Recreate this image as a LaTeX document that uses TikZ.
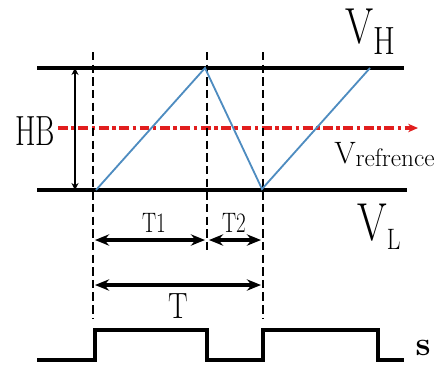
\documentclass[tikz,border=0pt]{standalone}
\usepackage{graphicx}
\usepackage{tikz}
\usetikzlibrary{positioning, arrows.meta}

\definecolor{rampblue}{RGB}{78,140,192}
\definecolor{refred}{RGB}{225,30,30}

% condensed label text
\newcommand{\narrowtxt}[2][0.8]{\scalebox{#1}[1]{#2}}

\begin{document}
\begin{tikzpicture}[
    x=0.025cm, y=-0.025cm,
    level/.style={line width=2.7pt},
    guide/.style={line width=0.9pt, dash pattern=on 6pt off 3pt},
    ramp/.style={rampblue, line width=1.3pt},
    span/.style={{Stealth[length=10pt,width=8pt]}-{Stealth[length=10pt,width=8pt]}, line width=2.4pt},
    band/.style={{Stealth[length=5pt,width=5pt]}-{Stealth[length=5pt,width=5pt]}, line width=0.9pt},
    reference/.style={refred, line width=2.3pt, dash pattern=on 7pt off 2.5pt on 2.5pt off 2.5pt, -{Stealth[length=7pt,width=6pt]}},
    pulse/.style={line width=2.7pt},
    lbl/.style={inner sep=0pt, anchor=base}
]
\useasboundingbox (0,0) rectangle (444,364);

% hysteresis band limits
\coordinate (hiL) at (37,68);   \coordinate (hiR) at (404,68);
\coordinate (loL) at (37,190);  \coordinate (loR) at (407,190);
\draw[level] (hiL) -- (hiR);
\draw[level] (loL) -- (loR);

% reference level
\coordinate (refL) at (58,128); \coordinate (refR) at (418,128);
\draw[reference] (refL) -- (refR);

% switching instants
\coordinate (d1t) at (93,52);  \coordinate (d1b) at (93,318);
\coordinate (d2t) at (207,52); \coordinate (d2b) at (207,253);
\coordinate (d3t) at (263,52); \coordinate (d3b) at (263,318);
\draw[guide] (d1t) -- (d1b);
\draw[guide] (d2t) -- (d2b);
\draw[guide] (d3t) -- (d3b);

% carrier
\coordinate (c0) at (96,190);
\coordinate (c1) at (205,68);
\coordinate (c2) at (262,189);
\coordinate (c3) at (370,68);
\draw[ramp] (c0) -- (c1) -- (c2) -- (c3);

% band width
\coordinate (hbT) at (75,68); \coordinate (hbB) at (75,190);
\draw[band] (hbT) -- (hbB);
\node[lbl, font=\fontsize{30}{30}\selectfont] (hb) at (35,145) {\narrowtxt[0.7]{HB}};

% level labels
\node[lbl, anchor=base west] (vh) at (345,43)
    {\fontsize{36}{36}\selectfont\narrowtxt{V}\raisebox{-8.5pt}{\fontsize{28}{28}\selectfont\narrowtxt{H}}};
\node[lbl, anchor=base west] (vref) at (334,163)
    {\fontsize{22}{22}\selectfont V\raisebox{-2.8pt}{\fontsize{18}{18}\selectfont refrence}};
\node[lbl, anchor=base west] (vl) at (357,240)
    {\fontsize{38}{38}\selectfont\narrowtxt{V}\raisebox{-7pt}{\fontsize{21}{21}\selectfont\narrowtxt{L}}};

% intervals
\coordinate (t1a) at (95,240);  \coordinate (t1b) at (205,240);
\coordinate (t2a) at (209,240); \coordinate (t2b) at (261,240);
\coordinate (ta) at (95,285);   \coordinate (tb) at (261,285);
\draw[span] (t1a) -- (t1b);
\draw[span] (t2a) -- (t2b);
\draw[span] (ta) -- (tb);
\node[lbl, font=\fontsize{20}{20}\selectfont] (t1) at (154,232) {\narrowtxt[0.75]{T1}};
\node[lbl, font=\fontsize{20}{20}\selectfont] (t2) at (234,232) {\narrowtxt[0.75]{T2}};
\node[lbl, font=\fontsize{26}{26}\selectfont] (t) at (178,318) {\narrowtxt{T}};

% gate signal
\coordinate (s0) at (37,360);
\draw[pulse] (s0) -- (95,360) -- (95,330) -- (207,330) -- (207,360)
    -- (263,360) -- (263,330) -- (378,330) -- (378,360) -- (404,360);
\node[lbl, font=\fontsize{24}{24}\bfseries\selectfont] (s) at (423,355) {s};

\end{tikzpicture}
\end{document}
